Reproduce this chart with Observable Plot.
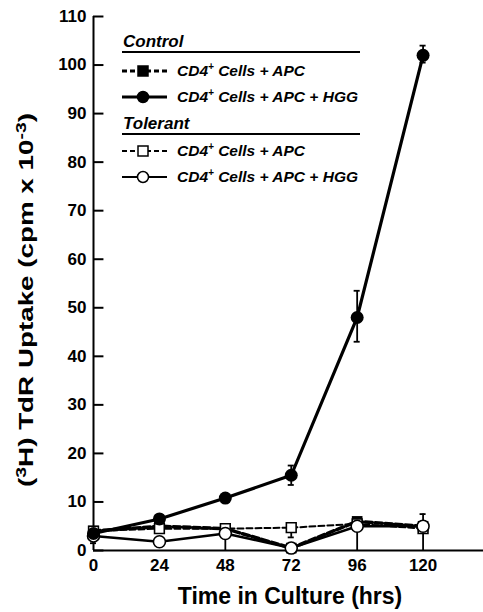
<!DOCTYPE html>
<html><head><meta charset="utf-8">
<script src="https://cdn.jsdelivr.net/npm/d3@7"></script>
<script src="https://cdn.jsdelivr.net/npm/@observablehq/plot@0.6"></script>
<style>
body{margin:0;background:#fff;font-family:"Liberation Sans",Arial,sans-serif;}
#wrap{position:relative;width:483px;height:612px;}
#legend{position:absolute;left:0;top:0;width:483px;height:200px;pointer-events:none;}
</style></head><body>
<div id="wrap"><div id="chart"></div><svg id="legend" width="483" height="200"></svg></div>
<script>
const hours = [0, 24, 48, 72, 96, 120];
const ctrlApc = [4, 5, 4.5, 0.5, 6, 5];
const ctrlHgg = [3.5, 6.5, 10.8, 15.5, 48, 102];
const tolApc = [4, 4.5, 4.5, 4.7, 5.5, 4.5];
const tolHgg = [3, 1.8, 3.5, 0.5, 5, 5];
const errX = [0, 48, 72, 72, 96, 96, 120, 120];
const errLo = [1.5, 0, 2.7, 13.5, 43, 0, 0, 100.5];
const errHi = [4, 3.5, 4.7, 17.5, 53.5, 6.5, 7.5, 104];
const xTicks = [0, 24, 48, 72, 96, 120];
const yTicks = [0, 10, 20, 30, 40, 50, 60, 70, 80, 90, 100, 110];
const legendRows = [
  {label: "CD4", rest: " Cells + APC", dash: true, sym: "square", fill: "black"},
  {label: "CD4", rest: " Cells + APC + HGG", dash: false, sym: "circle", fill: "black"},
  {label: "CD4", rest: " Cells + APC", dash: true, sym: "square", fill: "white"},
  {label: "CD4", rest: " Cells + APC + HGG", dash: false, sym: "circle", fill: "white"}
];
const groupTitles = ["Control", "Tolerant"];

const mk = (arr) => hours.map((h, i) => ({x: h, y: arr[i]}));
const errs = errX.map((x, i) => ({x, lo: errLo[i], hi: errHi[i]}));

const plot = Plot.plot({
  width: 483, height: 612,
  marginLeft: 93, marginRight: 0, marginTop: 16, marginBottom: 62,
  style: {fontFamily: "'Liberation Sans', Arial, sans-serif", fontWeight: "bold", fontSize: "17px", color: "black", background: "white"},
  x: {domain: [0, 142], label: null},
  y: {domain: [0, 110], label: null},
  marks: [
    Plot.ruleY([0], {stroke: "black", strokeWidth: 2}),
    Plot.ruleX([0], {y1: 0, y2: 110, stroke: "black", strokeWidth: 2}),
    Plot.ruleY(yTicks, {x1: 0, x2: 3.8, stroke: "black", strokeWidth: 2}),
    Plot.axisY({ticks: yTicks, tickSize: 0, tickPadding: 7, fontSize: 17, fontWeight: "bold"}),
    Plot.axisX({ticks: xTicks, tickSize: 0, tickPadding: 8, fontSize: 17, fontWeight: "bold"}),
    // error bars
    Plot.ruleX(errs, {x: "x", y1: "lo", y2: "hi", stroke: "black", strokeWidth: 1.8}),
    Plot.ruleY(errs, {y: "hi", x1: d => d.x - 1.1, x2: d => d.x + 1.1, stroke: "black", strokeWidth: 1.8}),
    Plot.ruleY(errs.filter(d => d.lo > 0), {y: "lo", x1: d => d.x - 1.1, x2: d => d.x + 1.1, stroke: "black", strokeWidth: 1.8}),
    // lines
    Plot.line(mk(tolApc), {x: "x", y: "y", stroke: "black", strokeWidth: 2, strokeDasharray: "6,3"}),
    Plot.line(mk(tolHgg), {x: "x", y: "y", stroke: "black", strokeWidth: 2.5}),
    Plot.line(mk(ctrlApc), {x: "x", y: "y", stroke: "black", strokeWidth: 3.5, strokeDasharray: "7,3"}),
    Plot.line(mk(ctrlHgg), {x: "x", y: "y", stroke: "black", strokeWidth: 3.2}),
    // markers
    Plot.dot(mk(ctrlApc), {x: "x", y: "y", symbol: "square", r: 6, fill: "black"}),
    Plot.dot(mk(tolApc), {x: "x", y: "y", symbol: "square", r: 5.5, fill: "white", stroke: "black", strokeWidth: 1.6}),
    Plot.dot(mk(tolHgg), {x: "x", y: "y", r: 6, fill: "white", stroke: "black", strokeWidth: 1.6}),
    Plot.dot(mk(ctrlHgg), {x: "x", y: "y", r: 6.5, fill: "black"})
  ]
});
document.getElementById("chart").appendChild(plot);

const svg = d3.select(plot);
// x label
svg.append("text").attr("x", 290).attr("y", 604).attr("text-anchor", "middle")
  .attr("font-size", 23).attr("font-weight", "bold").attr("fill", "black").text("Time in Culture (hrs)");
// y label
const yl = svg.append("text").attr("transform", "translate(33,300) rotate(-90)").attr("text-anchor", "middle")
  .attr("font-size", 20).attr("font-weight", "bold").attr("fill", "black")
  .attr("textLength", 374).attr("lengthAdjust", "spacingAndGlyphs");
yl.append("tspan").text("(");
yl.append("tspan").attr("dy", -7).attr("font-size", 14).text("3");
yl.append("tspan").attr("dy", 7).text("H) TdR Uptake (cpm x 10");
yl.append("tspan").attr("dy", -7).attr("font-size", 14).text("-3");
yl.append("tspan").attr("dy", 7).text(")");

// legend
const lg = d3.select("#legend");
const rowY = [71, 97, 151, 177];
const titleY = [47, 129];
const ruleY = [52, 134];
groupTitles.forEach((t, i) => {
  lg.append("text").attr("x", 123).attr("y", titleY[i]).attr("font-size", 17).attr("font-weight", "bold")
    .attr("font-style", "italic").attr("fill", "black").text(t);
  lg.append("line").attr("x1", 122).attr("x2", 360).attr("y1", ruleY[i]).attr("y2", ruleY[i])
    .attr("stroke", "black").attr("stroke-width", 1.8);
});
legendRows.forEach((r, i) => {
  const y = rowY[i];
  lg.append("line").attr("x1", 122).attr("x2", 167).attr("y1", y).attr("y2", y).attr("stroke", "black")
    .attr("stroke-width", r.fill === "black" ? 3 : 2.2).attr("stroke-dasharray", r.dash ? "5,3" : null);
  if (r.sym === "square") {
    lg.append("rect").attr("x", 138).attr("y", y - 5).attr("width", 10).attr("height", 10)
      .attr("fill", r.fill).attr("stroke", "black").attr("stroke-width", 1.5);
  } else {
    lg.append("circle").attr("cx", 143).attr("cy", y).attr("r", 5.5)
      .attr("fill", r.fill).attr("stroke", "black").attr("stroke-width", 1.5);
  }
  const t = lg.append("text").attr("x", 177).attr("y", y + 5).attr("font-size", 15.5).attr("font-weight", "bold")
    .attr("font-style", "italic").attr("fill", "black");
  t.append("tspan").text(r.label);
  t.append("tspan").attr("dy", -6).attr("font-size", 10).text("+");
  t.append("tspan").attr("dy", 6).text(r.rest);
});
</script></body></html>
